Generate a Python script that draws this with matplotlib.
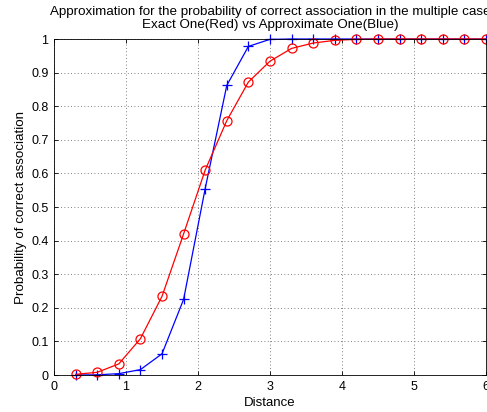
import matplotlib
matplotlib.use("Agg")
import matplotlib.pyplot as plt

plt.rcParams['font.family'] = ['Liberation Sans', 'DejaVu Sans']
plt.rcParams['font.size'] = 9

# distance samples
distance = [0.3, 0.6, 0.9, 1.2, 1.5, 1.8, 2.1, 2.4, 2.7, 3.0,
            3.3, 3.6, 3.9, 4.2, 4.5, 4.8, 5.1, 5.4, 5.7, 6.0]
# exact probability (red)
exact = [0.002, 0.008, 0.033, 0.108, 0.234, 0.420, 0.610, 0.757, 0.872, 0.934,
         0.972, 0.988, 0.996, 0.999, 1.0, 1.0, 1.0, 1.0, 1.0, 1.0]
# approximation (blue)
approx = [0.0, 0.0005, 0.004, 0.016, 0.063, 0.225, 0.555, 0.862, 0.978, 0.999,
          1.0, 1.0, 1.0, 1.0, 1.0, 1.0, 1.0, 1.0, 1.0, 1.0]

fig = plt.figure(figsize=(4.87, 4.12), dpi=100)
ax = fig.add_axes([54/487, 1 - 375/412, 432/487, 336/412])

ax.plot(distance, approx, color='blue', marker='+', markersize=7,
        markeredgewidth=0.9, linewidth=0.9, clip_on=False)
ax.plot(distance, exact, color='red', marker='o', markersize=6.5,
        markerfacecolor='none', markeredgewidth=0.9, linewidth=0.9, clip_on=False)

ax.set_xlim(0, 6)
ax.set_ylim(0, 1)
ax.set_xticks([0, 1, 2, 3, 4, 5, 6])
ax.set_yticks([i / 10 for i in range(11)])
ax.set_yticklabels(['0', '0.1', '0.2', '0.3', '0.4', '0.5', '0.6', '0.7', '0.8', '0.9', '1'])
ax.grid(True, linestyle=(0, (1, 3)), color='#555555', linewidth=0.6)
ax.tick_params(direction='in', length=3, width=0.6, top=True, right=True, pad=4)
for s in ax.spines.values():
    s.set_linewidth(0.6)

ax.set_xlabel('Distance', fontsize=9.5, labelpad=3)
ax.set_ylabel('Probability of correct association', fontsize=9.6, labelpad=3)
ax.set_title('Approximation for the probability of correct association in the multiple case\n'
             'Exact One(Red) vs Approximate One(Blue)', fontsize=9.6, pad=8, linespacing=1.15)

fig.savefig('out.png', dpi=100)
